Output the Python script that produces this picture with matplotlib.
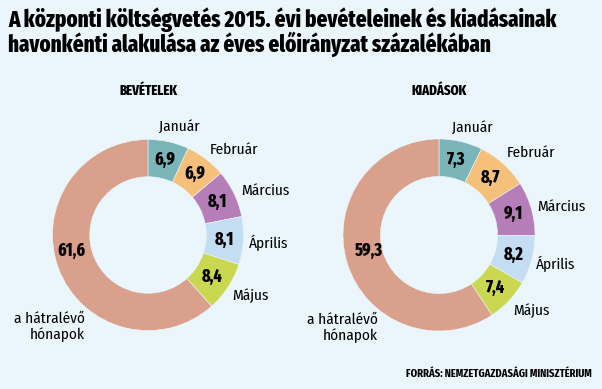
import numpy as np
import matplotlib.pyplot as plt

# data
months = ['Január', 'Február', 'Március', 'Április', 'Május', 'a hátralévő\nhónapok']
bevetelek = [6.9, 6.9, 8.1, 8.1, 8.4, 61.6]
kiadasok = [7.3, 8.7, 9.1, 8.2, 7.4, 59.3]
colors = ['#7AB5BA', '#F5C07A', '#B67EB9', '#C5DDF3', '#C9D84E', '#D9A18C']
bg = '#EBF6FC'

heavy = ['Fira Sans Extra Condensed', 'Roboto Condensed', 'DejaVu Sans']
cond = ['Fira Sans Condensed', 'Roboto Condensed', 'DejaVu Sans']

W, H = 602, 389
fig = plt.figure(figsize=(W / 100, H / 100), dpi=100, facecolor=bg)

fig.text(8 / W, 1 - 27 / H, 'A központi költségvetés 2015. évi bevételeinek és kiadásainak',
         family=heavy, weight='heavy', fontsize=16.3, va='baseline', ha='left')
fig.text(8 / W, 1 - 52 / H, 'havonkénti alakulása az éves előirányzat százalékában',
         family=heavy, weight='heavy', fontsize=16.3, va='baseline', ha='left')
fig.text(592 / W, 1 - 377 / H, 'FORRÁS: NEMZETGAZDASÁGI MINISZTÉRIUM',
         family=heavy, weight='bold', fontsize=8.2, va='baseline', ha='right')

# month label positions (in units of the outer radius)
left_lab = [(0.33, 1.12), (0.90, 0.89), (1.23, 0.46), (1.26, -0.08), (1.07, -0.63), (-0.66, -0.96)]
right_lab = [(0.35, 1.11), (0.96, 0.86), (1.28, 0.29), (1.22, -0.30), (0.96, -0.79), (-0.64, -0.97)]
rest_pos = [(-0.80, -0.17), (-0.73, -0.17)]

def donut(cx, cy, R, vals, title, lab_pos, rpos):
    ax = fig.add_axes([(cx - R) / W, 1 - (cy + R) / H, 2 * R / W, 2 * R / H])
    ax.set_facecolor(bg)
    width = 0.39
    wedges, _ = ax.pie(vals, colors=colors, startangle=90, counterclock=False,
                       radius=1, wedgeprops=dict(width=width, linewidth=0.4, edgecolor=bg))
    ax.set_xlim(-1, 1)
    ax.set_ylim(-1, 1)
    ax.set_aspect('equal')
    ax.axis('off')
    rmid = 1 - width / 2
    for i, w in enumerate(wedges):
        txt = f'{vals[i]:.1f}'.replace('.', ',')
        if i < len(vals) - 1:
            ang = np.deg2rad((w.theta1 + w.theta2) / 2)
            x, y = rmid * np.cos(ang), rmid * np.sin(ang)
        else:
            x, y = rpos
        ax.text(x, y, txt, ha='center', va='center', family=heavy,
                weight='heavy', fontsize=12.5)
        lx, ly = lab_pos[i]
        if i < len(vals) - 1:
            ax.text(lx, ly, months[i], ha='center', va='center', family=cond,
                    fontsize=11, clip_on=False)
        else:
            ax.text(lx, ly, months[i], ha='right', va='center', family=cond,
                    fontsize=11, multialignment='right', linespacing=1.15, clip_on=False)
    fig.text(cx / W, 1 - 95 / H, title, ha='center', va='baseline', family=heavy,
             weight='heavy', fontsize=10)

donut(148, 235, 95.5, bevetelek, 'BEVÉTELEK', left_lab, rest_pos[0])
donut(439, 235, 96, kiadasok, 'KIADÁSOK', right_lab, rest_pos[1])

fig.savefig('out.png', dpi=100, facecolor=bg)
